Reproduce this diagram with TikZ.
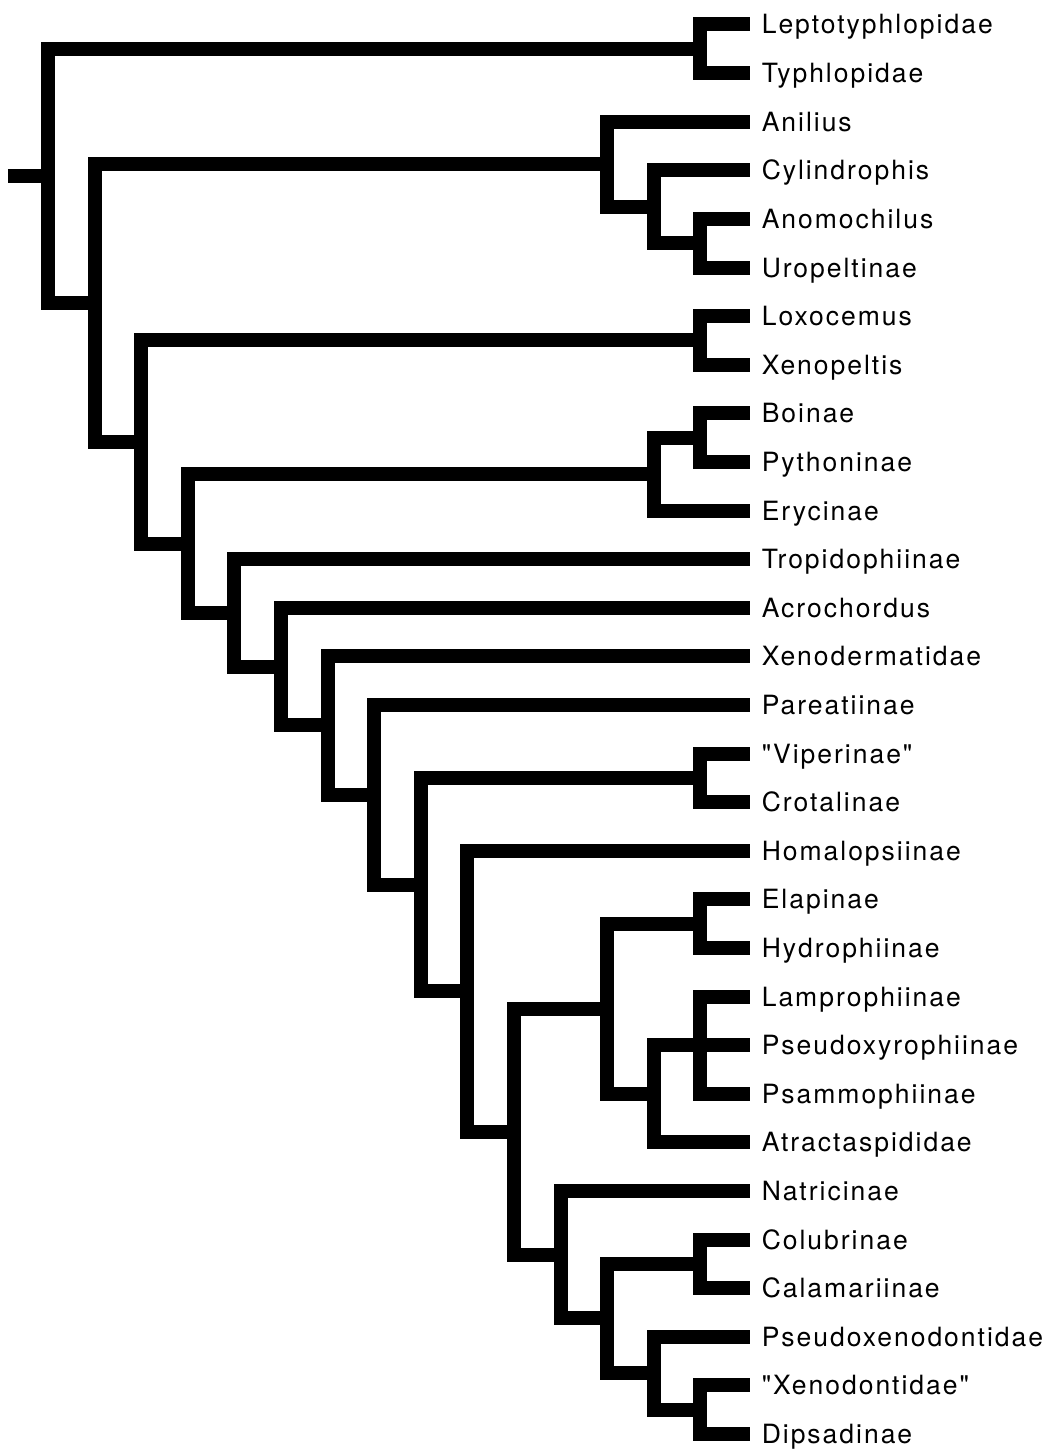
\documentclass[tikz,border=0pt]{standalone}
\usepackage{fontspec}
\newfontfamily\taxonfont{TeX Gyre Heros}[LetterSpace=7.5]
\usepackage{tikz}

\begin{document}
\begin{tikzpicture}[
 x=46.6pt, y=-48.6pt,
 taxon/.style={anchor=west,inner xsep=12pt,inner ysep=0pt,outer sep=0pt,
   text height=19pt,text depth=0pt,font=\taxonfont\fontsize{26.5}{30}\selectfont},
 branch/.style={line width=14pt,line join=miter,draw=black}]
\useasboundingbox (-48pt,24.5pt) rectangle (1002pt,-1425.5pt);
% terminal taxa, top to bottom
\foreach \id/\tname [count=\i] in {lepto/Leptotyphlopidae, typhlo/Typhlopidae,
  anilius/Anilius, cylindro/Cylindrophis, anomo/Anomochilus, uropelt/Uropeltinae,
  loxo/Loxocemus, xenopelt/Xenopeltis, boin/Boinae, python/Pythoninae,
  eryc/Erycinae, tropido/Tropidophiinae, acro/Acrochordus, xenoderm/Xenodermatidae,
  pareat/Pareatiinae, viper/"Viperinae", crotal/Crotalinae, homal/Homalopsiinae,
  elap/Elapinae, hydro/Hydrophiinae, lamproph/Lamprophiinae, pseudoxy/Pseudoxyrophiinae,
  psammo/Psammophiinae, atract/Atractaspididae, natric/Natricinae, colub/Colubrinae,
  calam/Calamariinae, pseudoxeno/Pseudoxenodontidae, xenodont/"Xenodontidae",
  dipsad/Dipsadinae}
  \node[taxon] (\id) at (15.06,\i-1) {\tname};
% internal nodes (x = depth, y = mean of the two children)
\coordinate (nScol) at (14,0.5);
\coordinate (nUro) at (14,4.5);
\coordinate (nCyl) at (13,3.75);
\coordinate (nAnil) at (12,2.875);
\coordinate (nLoxo) at (14,6.5);
\coordinate (nBoPy) at (14,8.5);
\coordinate (nBoid) at (13,9.25);
\coordinate (nVip) at (14,15.5);
\coordinate (nElap) at (14,18.5);
\coordinate (nLamp) at (14,21);
\coordinate (nAtr) at (13,22);
\coordinate (nElapoid) at (12,20.25);
\coordinate (nColub) at (14,25.5);
\coordinate (nXeno) at (14,28.5);
\coordinate (nDips) at (13,27.75);
\coordinate (nCol) at (12,26.625);
\coordinate (nNat) at (11,25.31);
\coordinate (nColoid) at (10,22.78);
\coordinate (nHom) at (9,19.89);
\coordinate (nCaen) at (8,17.70);
\coordinate (nPar) at (7,15.85);
\coordinate (nXder) at (6,14.42);
\coordinate (nAcro) at (5,13.21);
\coordinate (nTrop) at (4,12.11);
\coordinate (nBoa) at (3,10.68);
\coordinate (nMacro) at (2,8.59);
\coordinate (nAleth) at (1,5.73);
\coordinate (nRoot) at (0,3.12);
\coordinate (stub) at (-0.86,3.12);
% branches
\draw[branch] (stub) -- (nRoot);
\draw[branch] (nRoot) |- (nScol) (nRoot) |- (nAleth);
\draw[branch] (nScol) |- (lepto) (nScol) |- (typhlo);
\draw[branch] (nAleth) |- (nAnil) (nAleth) |- (nMacro);
\draw[branch] (nAnil) |- (anilius) (nAnil) |- (nCyl);
\draw[branch] (nCyl) |- (cylindro) (nCyl) |- (nUro);
\draw[branch] (nUro) |- (anomo) (nUro) |- (uropelt);
\draw[branch] (nMacro) |- (nLoxo) (nMacro) |- (nBoa);
\draw[branch] (nLoxo) |- (loxo) (nLoxo) |- (xenopelt);
\draw[branch] (nBoa) |- (nBoid) (nBoa) |- (nTrop);
\draw[branch] (nBoid) |- (nBoPy) (nBoid) |- (eryc);
\draw[branch] (nBoPy) |- (boin) (nBoPy) |- (python);
\draw[branch] (nTrop) |- (tropido) (nTrop) |- (nAcro);
\draw[branch] (nAcro) |- (acro) (nAcro) |- (nXder);
\draw[branch] (nXder) |- (xenoderm) (nXder) |- (nPar);
\draw[branch] (nPar) |- (pareat) (nPar) |- (nCaen);
\draw[branch] (nCaen) |- (nVip) (nCaen) |- (nHom);
\draw[branch] (nVip) |- (viper) (nVip) |- (crotal);
\draw[branch] (nHom) |- (homal) (nHom) |- (nColoid);
\draw[branch] (nColoid) |- (nElapoid) (nColoid) |- (nNat);
\draw[branch] (nElapoid) |- (nElap) (nElapoid) |- (nAtr);
\draw[branch] (nElap) |- (elap) (nElap) |- (hydro);
\draw[branch] (nAtr) |- (nLamp) (nAtr) |- (atract);
\draw[branch] (nLamp) |- (lamproph) (nLamp) |- (pseudoxy) (nLamp) |- (psammo);
\draw[branch] (nNat) |- (natric) (nNat) |- (nCol);
\draw[branch] (nCol) |- (nColub) (nCol) |- (nDips);
\draw[branch] (nColub) |- (colub) (nColub) |- (calam);
\draw[branch] (nDips) |- (pseudoxeno) (nDips) |- (nXeno);
\draw[branch] (nXeno) |- (xenodont) (nXeno) |- (dipsad);
\end{tikzpicture}
\end{document}
